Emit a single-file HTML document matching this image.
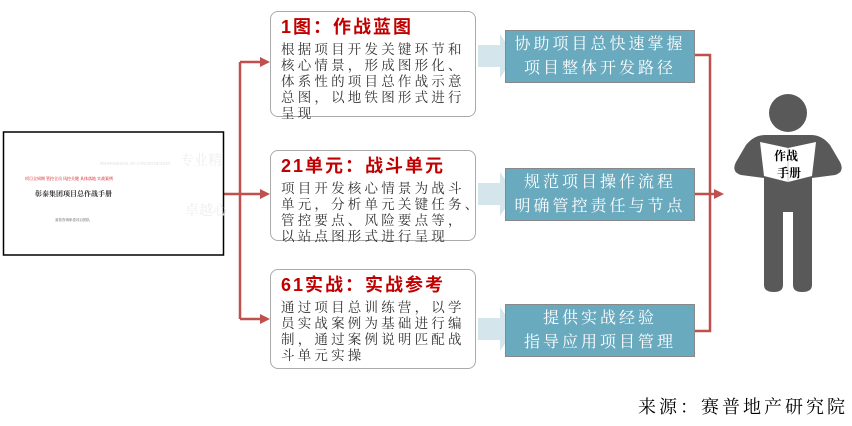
<!DOCTYPE html>
<html><head><meta charset="utf-8"><style>
body{margin:0;width:852px;height:426px;background:#fff;position:relative;overflow:hidden;font-family:"Liberation Serif","Noto Serif CJK SC",serif;}
.a{position:absolute;}
.box{position:absolute;left:270px;width:206px;border:1px solid #aaa;border-radius:8px;background:#fff;box-sizing:border-box;padding:3px 0 0 10px;}
.t{font-family:"Liberation Sans","Noto Sans CJK SC",sans-serif;font-weight:bold;color:#c00000;font-size:18px;letter-spacing:2px;line-height:24px;}
.b{font-size:13.5px;color:#333;line-height:16px;letter-spacing:3.2px;margin-top:3px;white-space:nowrap;}
.blue{position:absolute;left:505px;width:190px;height:53px;background:#6aaabf;border:1px solid #888;box-sizing:border-box;color:#fff;font-size:16px;letter-spacing:3px;text-align:center;line-height:24px;padding-top:2px;white-space:nowrap;}
</style></head><body>
<svg class="a" style="left:0;top:0" width="852" height="426">
<g fill="#d4e5ec">
<polygon points="478,45 500,45 500,34 515,56 500,78 500,67 478,67"/>
<polygon points="478,183 500,183 500,172 515,194 500,216 500,205 478,205"/>
<polygon points="478,318 500,318 500,307 515,329 500,351 500,340 478,340"/>
</g>
<g stroke="#c0504d" stroke-width="2.5" fill="none">
<path d="M224,194 H240 M240,62 V319 M240,62 H262 M240,194 H262 M240,319 H262"/>
<path d="M695,55 H710 V331 H695 M695,194 H710 M710,194 H716"/>
</g>
<g fill="#c0504d">
<polygon points="260,57 270,62 260,67"/><polygon points="260,189 270,194 260,199"/><polygon points="260,314 270,319 260,324"/>
<polygon points="714,189 724,194 714,199"/>
</g>
<g fill="#595959">
<circle cx="788" cy="113" r="19"/>
<path d="M765,135 H811 Q822,135 830,145 L840,162 Q845,172 835,175 L812,178 V285 Q812,292 802,292 Q793,292 793,285 V212 H783 V285 Q783,292 774,292 Q764,292 764,285 V178 L741,175 Q731,172 736,162 L746,145 Q754,135 765,135 Z"/>
</g>
<path d="M760,142 L788,148 L816,142 L812,176 L788,182 L764,176 Z" fill="#fff"/>
<line x1="788" y1="148" x2="788" y2="182" stroke="#ccc"/>
<text x="774" y="160" font-size="12" font-weight="bold" fill="#000" font-family="Liberation Serif,Noto Serif CJK SC,serif">作战</text>
<text x="777" y="177" font-size="12" font-weight="bold" fill="#000" font-family="Liberation Serif,Noto Serif CJK SC,serif">手册</text>
<rect x="3.5" y="132" width="220" height="123" fill="#fff" stroke="#000" stroke-width="1.5"/>
<text x="180" y="165" font-size="14" fill="#eee">专业精</text>
<text x="185" y="215" font-size="14" fill="#eee">卓越心</text>
<text x="100" y="165" font-size="4" fill="#ddd">PROFESSIONAL BY CONCENTRATION</text>
<text x="25" y="180" font-size="4" fill="#c00">项目全周期 管控全员 风控关键 具体落地 实战案例</text>
<text x="35" y="196" font-size="7" fill="#333" font-weight="bold">彰泰集团项目总作战手册</text>
<text x="55" y="221" font-size="3.5" fill="#555">赛普咨询彰泰项目团队</text>
</svg>
<div class="box" style="top:11px;height:106px;"><div class="t">1图：作战蓝图</div><div class="b">根据项目开发关键环节和<br>核心情景，形成图形化、<br>体系性的项目总作战示意<br>总图，以地铁图形式进行<br>呈现</div></div>
<div class="box" style="top:150px;height:91px;"><div class="t">21单元：战斗单元</div><div class="b">项目开发核心情景为战斗<br>单元，分析单元关键任务、<br>管控要点、风险要点等，<br>以站点图形式进行呈现</div></div>
<div class="box" style="top:269px;height:100px;"><div class="t">61实战：实战参考</div><div class="b">通过项目总训练营，以学<br>员实战案例为基础进行编<br>制，通过案例说明匹配战<br>斗单元实操</div></div>
<div class="blue" style="top:30px;">协助项目总快速掌握<br>项目整体开发路径</div>
<div class="blue" style="top:168px;">规范项目操作流程<br>明确管控责任与节点</div>
<div class="blue" style="top:304px;">提供实战经验<br>指导应用项目管理</div>
<div class="a" style="right:4px;top:393px;font-size:18px;letter-spacing:3px;color:#000;white-space:nowrap;">来源：赛普地产研究院</div>
</body></html>
